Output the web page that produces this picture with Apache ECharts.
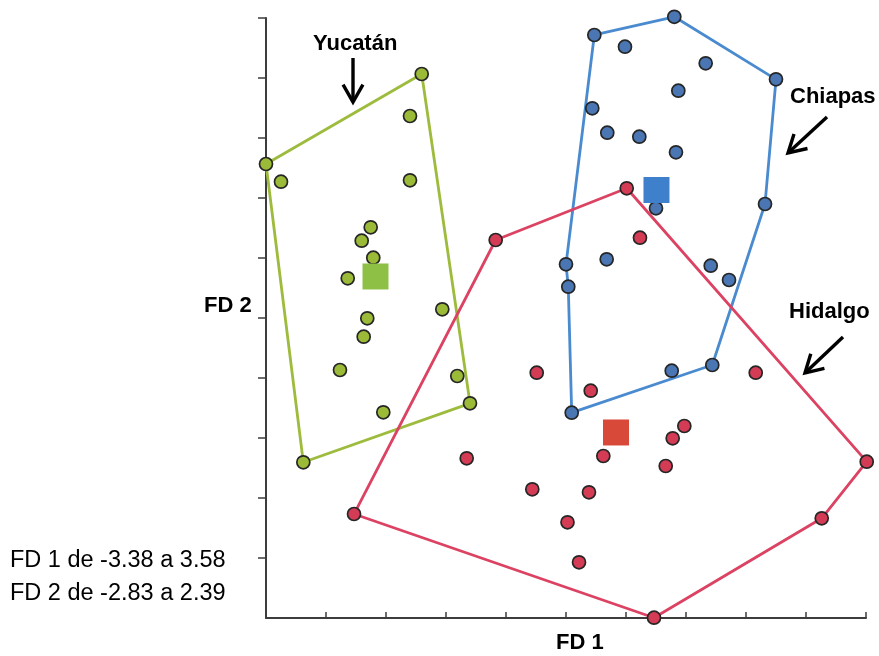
<!DOCTYPE html>
<html>
<head>
<meta charset="utf-8">
<script src="https://cdn.jsdelivr.net/npm/echarts@6/dist/echarts.min.js"></script>
<style>
html,body{margin:0;padding:0;background:#fff;}
#chart{width:879px;height:656px;}
</style>
</head>
<body>
<div id="chart"></div>
<script>
// Axis units: both axes run 0..10 (10 tick intervals, no tick labels)
var xTicks = [0,1,2,3,4,5,6,7,8,9,10];
var yTicks = [1,2,3,4,5,6,7,8,9,10];

// Yucatán individuals [FD1, FD2] (axis units)
var yucatan = [
  [2.595,9.067],[2.40,8.367],[0.0,7.567],[0.25,7.272],[2.40,7.295],
  [1.745,6.512],[1.595,6.288],[1.788,6.005],[1.362,5.662],[2.938,5.145],
  [1.688,4.995],[1.628,4.688],[1.233,4.133],[3.188,4.033],[3.40,3.578],
  [1.955,3.428],[0.622,2.595]
];
var yucatanHull = [0,2,16,14];
var yucatanCentroid = [1.825,5.692];

// Chiapas individuals
var chiapas = [
  [6.805,10.02],[5.472,9.717],[5.983,9.522],[7.328,9.245],[8.50,8.978],
  [6.872,8.788],[5.438,8.495],[5.688,8.088],[6.222,8.022],[6.833,7.762],
  [6.50,6.828],[8.317,6.90],[5.678,5.978],[5.00,5.895],[7.412,5.872],
  [7.717,5.633],[5.038,5.522],[6.762,4.122],[7.438,4.217],[5.095,3.422]
];
var chiapasHull = [1,0,4,11,18,19,16,13];
var chiapasCentroid = [6.508,7.133];

// Hidalgo individuals
var hidalgo = [
  [6.012,7.162],[6.233,6.338],[3.828,6.30],[4.512,4.088],[8.162,4.088],
  [5.412,3.788],[6.972,3.20],[6.778,2.995],[5.622,2.70],[3.345,2.662],
  [10.012,2.605],[6.662,2.533],[4.438,2.145],[5.383,2.095],[1.467,1.733],
  [9.262,1.662],[5.025,1.595],[5.217,0.928],[6.467,0.005]
];
var hidalgoHull = [0,10,15,18,14,2];
var hidalgoCentroid = [5.833,3.092];

var groupNames = ['Yucatán','Chiapas','Hidalgo'];
var rangeNotes = ['FD 1 de -3.38 a 3.58','FD 2 de -2.83 a 2.39'];
var axisNames = ['FD 1','FD 2'];

var groups = [
  {name: groupNames[0], pts: yucatan, hull: yucatanHull, c: yucatanCentroid,
   line: '#9dbb3c', fill: '#9bba38', sq: '#8fc046'},
  {name: groupNames[1], pts: chiapas, hull: chiapasHull, c: chiapasCentroid,
   line: '#4a8bd0', fill: '#4a76b4', sq: '#3f80cc'},
  {name: groupNames[2], pts: hidalgo, hull: hidalgoHull, c: hidalgoCentroid,
   line: '#dc4262', fill: '#d43c55', sq: '#d9493a'}
];

function hullPath(g){
  var p = g.hull.map(function(i){ return g.pts[i]; });
  p.push(g.pts[g.hull[0]]);
  return p;
}

var series = [];
groups.forEach(function(g){
  series.push({type:'line', data: hullPath(g), symbol:'none', clip:false,
    lineStyle:{color:g.line, width:2.8}, z:2, silent:true, animation:false});
});
groups.forEach(function(g){
  series.push({type:'scatter', data: g.pts, symbol:'circle', symbolSize:13, clip:false,
    itemStyle:{color:g.fill, borderColor:'#262626', borderWidth:1.7, opacity:1}, z:3, animation:false});
});
groups.forEach(function(g){
  series.push({type:'scatter', data: [g.c], symbol:'rect', symbolSize:26, clip:false,
    itemStyle:{color:g.sq, opacity:1}, z:4, animation:false});
});

function arrow(x1,y1,x2,y2){
  var ang = Math.atan2(y2-y1, x2-x1);
  var L = 20, a = 0.52;
  var h1 = [x2 - L*Math.cos(ang-a), y2 - L*Math.sin(ang-a)];
  var h2 = [x2 - L*Math.cos(ang+a), y2 - L*Math.sin(ang+a)];
  return [
    {type:'polyline', shape:{points:[[x1,y1],[x2,y2]]}, style:{stroke:'#000', lineWidth:3.4, fill:null}},
    {type:'polyline', shape:{points:[h1,[x2,y2],h2]}, style:{stroke:'#000', lineWidth:3.4, fill:null, lineJoin:'miter'}}
  ];
}

var boldFont = 'bold 22px "Liberation Sans", Arial, sans-serif';
var normFont = '23.5px "Liberation Sans", Arial, sans-serif';
function txt(t,x,y,font){
  return {type:'text', style:{text:t, x:x, y:y, font:font, fill:'#000', textAlign:'left', textVerticalAlign:'middle'}};
}

var graphics = [
  txt(groupNames[0], 313, 44, boldFont),
  txt(groupNames[1], 790, 97, boldFont),
  txt(groupNames[2], 789, 312, boldFont),
  txt(axisNames[1], 204, 306, boldFont),
  txt(axisNames[0], 556, 643, boldFont),
  txt(rangeNotes[0], 10, 561, normFont),
  txt(rangeNotes[1], 10, 594, normFont)
].concat(arrow(353,58,353,102), arrow(827,117,788,153), arrow(843,337,805,373));

var chart = echarts.init(document.getElementById('chart'), null, {renderer:'canvas'});
chart.setOption({
  animation:false,
  backgroundColor:'#ffffff',
  grid:{left:266, top:18, width:600, height:600, containLabel:false},
  xAxis:{type:'value', min:xTicks[0], max:xTicks[xTicks.length-1], interval:1,
    axisLine:{show:true, onZero:false, lineStyle:{color:'#3c3c3c', width:2}},
    axisTick:{show:true, inside:true, length:6, lineStyle:{color:'#3c3c3c', width:1.5}},
    axisLabel:{show:false}, splitLine:{show:false}},
  yAxis:{type:'value', min:0, max:yTicks[yTicks.length-1], interval:1,
    axisLine:{show:true, onZero:false, lineStyle:{color:'#3c3c3c', width:2}},
    axisTick:{show:true, inside:false, length:8, customValues: yTicks, lineStyle:{color:'#3c3c3c', width:1.5}},
    axisLabel:{show:false}, splitLine:{show:false}},
  series: series,
  graphic: graphics
});
</script>
</body>
</html>
